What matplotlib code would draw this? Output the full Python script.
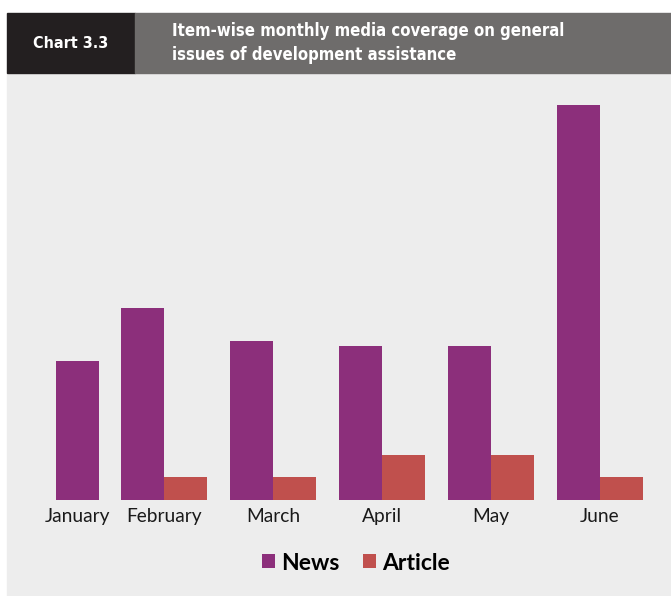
import numpy as np
import matplotlib.pyplot as plt
from matplotlib import font_manager
from matplotlib.patches import Rectangle

# dados
meses = ['January', 'February', 'March', 'April', 'May', 'June']
news = [6.15, 8.5, 7.05, 6.8, 6.8, 17.5]
article = [0, 1, 1, 2, 2, 1]

W, H = 671, 596
fig = plt.figure(figsize=(W / 100, H / 100), dpi=100)
fig.patch.set_facecolor('white')

def fx(px):
    return px / W

def fy(py):
    return 1 - py / H

# procura uma fonte estreita para o cabecalho
narrow = [f for f in font_manager.fontManager.ttflist
          if ('Narrow' in f.name or 'Condensed' in f.name or f.stretch in ('condensed', 'semi-condensed'))
          and f.weight in ('bold', 700)]
if narrow:
    fonte_tit = dict(family=narrow[0].name, stretch=narrow[0].stretch, size=12)
    fonte_chart = dict(family=narrow[0].name, stretch=narrow[0].stretch, size=11.5)
else:
    fonte_tit = dict(family='DejaVu Sans', size=10.5)
    fonte_chart = dict(family='DejaVu Sans', size=10)

# fundo cinza claro do painel
fig.patches.append(Rectangle((fx(7), 0), 1 - fx(7), fy(73),
                             transform=fig.transFigure, color='#ededed', zorder=0))
# cabecalho
fig.patches.append(Rectangle((fx(7), fy(73)), fx(128), fy(13) - fy(73),
                             transform=fig.transFigure, color='#231f20', zorder=1))
fig.patches.append(Rectangle((fx(135), fy(73)), 1 - fx(135), fy(13) - fy(73),
                             transform=fig.transFigure, color='#6e6c6b', zorder=1))
fig.text(fx(71), fy(44), 'Chart 3.3', color='white', fontweight='bold',
         ha='center', va='center', **fonte_chart)
fig.text(fx(172), fy(43), 'Item-wise monthly media coverage on general\nissues of development assistance',
         color='white', fontweight='bold', linespacing=1.45,
         ha='left', va='center', **fonte_tit)

# eixo: Feb no pixel 164, 109 px por grupo
ax = fig.add_axes([0, fy(500), 1, fy(73) - fy(500)])
ax.set_zorder(5)
ax.set_facecolor('none')
x = np.arange(len(meses), dtype=float)
x[0] = 0.4  # janeiro fica mais perto de fevereiro no original
w = 43 / 109

ax.bar(x - w / 2, news, w, color='#8c2f7b', label='News')
ax.bar(x + w / 2, article, w, color='#c0504d', label='Article')

ax.set_xlim(1 - 164 / 109, 1 + (671 - 164) / 109)
ax.set_ylim(0, 427 / 22.6)

pos_label = x.copy()
pos_label[0] = x[0] - w / 2
ax.set_xticks(pos_label)
ax.set_xticklabels(meses, fontsize=13.8, family=['Lato', 'DejaVu Sans'], color='#1a1a1a')
ax.tick_params(axis='x', length=0, pad=6)
ax.set_yticks([])
for s in ax.spines.values():
    s.set_visible(False)

leg = fig.legend(loc='center', bbox_to_anchor=(fx(356), fy(563)), ncol=2, frameon=False,
                 handlelength=0.57, handleheight=0.57, handletextpad=0.25, columnspacing=1.05,
                 prop={'family': ['Lato', 'DejaVu Sans'], 'weight': 'bold', 'size': 16.5})
leg.set_zorder(6)

fig.savefig('out.png', dpi=100)
